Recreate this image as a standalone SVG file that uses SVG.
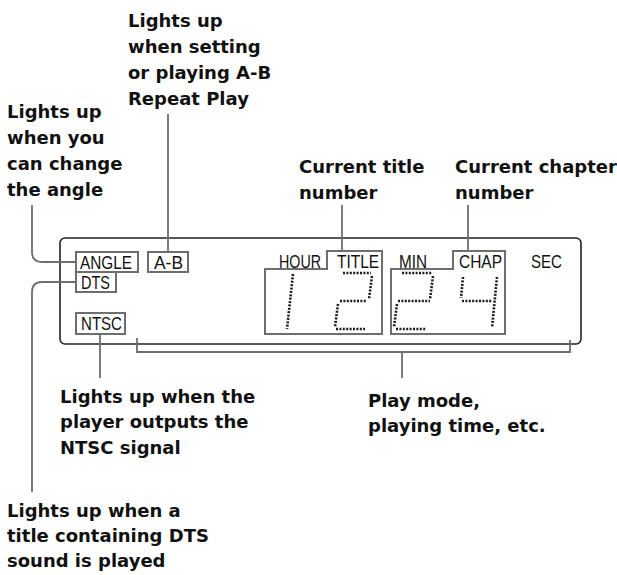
<svg xmlns="http://www.w3.org/2000/svg" width="617" height="575" viewBox="0 0 617 575">
<style>
.lbl{font-family:"DejaVu Sans",sans-serif;font-weight:bold;font-size:18px;fill:#111}
.seg{font-family:"Liberation Sans",Arial,sans-serif;font-size:17.5px;fill:#111}
.box{fill:#fff;stroke:#6e6e6e;stroke-width:2}
.lead{fill:none;stroke:#6e6e6e;stroke-width:1.8}
.dig{fill:none;stroke:#1a1a1a;stroke-width:2.6;stroke-dasharray:2 1.4}
</style>
<rect width="617" height="575" fill="#fff"/>
<g id="display">
<rect x="60" y="238" width="521" height="106" rx="5" fill="#fff" stroke="#222" stroke-width="1.6"/>
</g>
<g id="connectors">
<path class="lead" d="M32,205 V252 Q32,262 42,262 H76"/>
<path class="lead" d="M76,282 H42 Q32,282 32,292 V492"/>
<path class="lead" d="M168,114 V252"/>
<path class="lead" d="M342,205 V251"/>
<path class="lead" d="M468,205 V251"/>
<path class="lead" d="M100,334 V378"/>
<path class="lead" d="M137,338 V352 H570 V340"/>
<path class="lead" d="M402,352 V378"/>
</g>
<g id="angle">
<rect class="box" x="76" y="252" width="62" height="20"/>
<text class="seg" x="80" y="269" textLength="52" lengthAdjust="spacingAndGlyphs">ANGLE</text>
</g>
<g id="ab">
<rect class="box" x="148" y="252" width="40" height="20"/>
<text class="seg" x="154" y="269" textLength="29" lengthAdjust="spacingAndGlyphs">A-B</text>
</g>
<g id="dts">
<rect class="box" x="76" y="272" width="40" height="20"/>
<text class="seg" x="81" y="289" textLength="29" lengthAdjust="spacingAndGlyphs">DTS</text>
</g>
<g id="ntsc">
<rect class="box" x="76" y="313" width="49" height="21"/>
<text class="seg" x="81" y="330" textLength="41" lengthAdjust="spacingAndGlyphs">NTSC</text>
</g>
<g id="hour-title">
<path class="box" d="M265,269 H327 V251 H382 V334 H265 Z"/>
<text class="seg" x="279" y="268" textLength="42" lengthAdjust="spacingAndGlyphs">HOUR</text>
<text class="seg" x="337" y="268" textLength="42" lengthAdjust="spacingAndGlyphs">TITLE</text>
<path class="dig" d="M293,274 L287,329"/>
<path class="dig" d="M343,273 H371 M372,276 L369,299 M340,301 H367 M338,304 L335,327 M336,329 H365"/>
</g>
<g id="min-chap">
<path class="box" d="M391,269 H453 V251 H505 V334 H391 Z"/>
<text class="seg" x="399" y="268" textLength="28" lengthAdjust="spacingAndGlyphs">MIN</text>
<text class="seg" x="459" y="268" textLength="43" lengthAdjust="spacingAndGlyphs">CHAP</text>
<path class="dig" d="M402,273 H432 M433,276 L430,299 M398,301 H430 M397,304 L394,327 M396,329 H426"/>
<path class="dig" d="M463,277 L461,298 M462,301 H492 M497,277 L492,328"/>
</g>
<g id="sec">
<text class="seg" x="531" y="268" textLength="31" lengthAdjust="spacingAndGlyphs">SEC</text>
</g>
<g id="note-ab">
<text class="lbl" x="128" y="27">Lights up</text>
<text class="lbl" x="128" y="53">when setting</text>
<text class="lbl" x="128" y="79">or playing A-B</text>
<text class="lbl" x="128" y="105">Repeat Play</text>
</g>
<g id="note-angle">
<text class="lbl" x="7" y="118">Lights up</text>
<text class="lbl" x="7" y="144">when you</text>
<text class="lbl" x="7" y="170">can change</text>
<text class="lbl" x="7" y="196">the angle</text>
</g>
<g id="note-title">
<text class="lbl" x="299" y="173">Current title</text>
<text class="lbl" x="299" y="199">number</text>
</g>
<g id="note-chapter">
<text class="lbl" x="455" y="173">Current chapter</text>
<text class="lbl" x="455" y="199">number</text>
</g>
<g id="note-ntsc">
<text class="lbl" x="60" y="403">Lights up when the</text>
<text class="lbl" x="60" y="428">player outputs the</text>
<text class="lbl" x="60" y="454">NTSC signal</text>
</g>
<g id="note-play">
<text class="lbl" x="368" y="407">Play mode,</text>
<text class="lbl" x="368" y="432">playing time, etc.</text>
</g>
<g id="note-dts">
<text class="lbl" x="7" y="517">Lights up when a</text>
<text class="lbl" x="7" y="542">title containing DTS</text>
<text class="lbl" x="7" y="567">sound is played</text>
</g>
</svg>
